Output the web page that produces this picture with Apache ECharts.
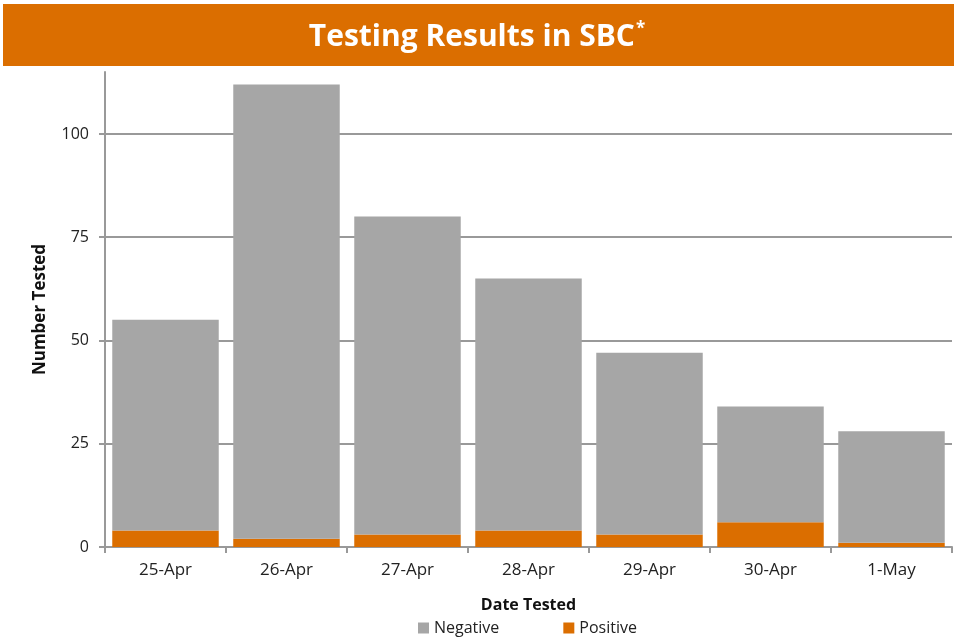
<!DOCTYPE html>
<html lang="en">
<head>
    <meta charset="UTF-8">
    <title>Testing Results in SBC</title>
    <script src="https://cdn.jsdelivr.net/npm/echarts@6.0.0/dist/echarts.min.js"></script>
    <style>
        html, body { margin: 0; padding: 0; background: #fff; }
        #chart { width: 954px; height: 643px; }
    </style>
</head>
<body>
    <div id="chart"></div>
    <script>
    // 数据
    const dates = ['25-Apr', '26-Apr', '27-Apr', '28-Apr', '29-Apr', '30-Apr', '1-May'];
    const positive = [4, 2, 3, 4, 3, 6, 1];
    const negative = [51, 110, 77, 61, 44, 28, 27];

    const font = 'Open Sans, Noto Sans, sans-serif';
    const chart = echarts.init(document.getElementById('chart'));
    chart.setOption({
        animation: false,
        graphic: [
            { type: 'rect', shape: { x: 3, y: 4, width: 951, height: 62 }, style: { fill: '#DB6E00' }, z: 0 }
        ],
        title: {
            text: '{t|Testing Results in SBC}{s|*}',
            left: 'center',
            top: 16,
            textStyle: {
                rich: {
                    t: { color: '#fff', fontSize: 30, fontWeight: 'bold', fontFamily: font },
                    s: { color: '#fff', fontSize: 17, fontWeight: 'bold', fontFamily: font, verticalAlign: 'top', padding: [0, 0, 16, 1] }
                }
            }
        },
        grid: { left: 105, right: 2, top: 72, bottom: 96 },
        legend: {
            bottom: 2,
            left: 413,
            itemGap: 64,
            itemWidth: 11,
            itemHeight: 11,
            icon: 'rect',
            textStyle: { fontSize: 16, color: '#222', fontFamily: font },
            data: ['Negative', 'Positive']
        },
        xAxis: {
            type: 'category',
            data: dates,
            name: 'Date Tested',
            nameLocation: 'middle',
            nameGap: 50,
            nameTextStyle: { fontSize: 16, fontWeight: 'bold', color: '#111', fontFamily: font },
            axisLine: { lineStyle: { color: '#999', width: 2 } },
            axisTick: { show: true, length: 6, lineStyle: { color: '#999', width: 2 } },
            axisLabel: { fontSize: 17, color: '#222', margin: 15, fontFamily: font }
        },
        yAxis: {
            type: 'value',
            min: 0,
            max: 115,
            interval: 25,
            name: 'Number Tested',
            nameLocation: 'middle',
            nameGap: 56,
            nameTextStyle: { fontSize: 17, fontWeight: 'bold', color: '#111', fontFamily: font },
            axisLine: { show: true, lineStyle: { color: '#999', width: 2 } },
            axisTick: { show: true, length: 6, lineStyle: { color: '#999', width: 2 } },
            axisLabel: { fontSize: 16, color: '#222', margin: 16, fontFamily: font, showMaxLabel: false },
            splitLine: { show: true, showMaxLine: false, lineStyle: { color: '#999', width: 2 } }
        },
        series: [
            { name: 'Positive', type: 'bar', stack: 'total', data: positive, barCategoryGap: '12%', itemStyle: { color: '#DB6E00' } },
            { name: 'Negative', type: 'bar', stack: 'total', data: negative, barCategoryGap: '12%', itemStyle: { color: '#A6A6A6' } }
        ]
    });
    </script>
</body>
</html>
